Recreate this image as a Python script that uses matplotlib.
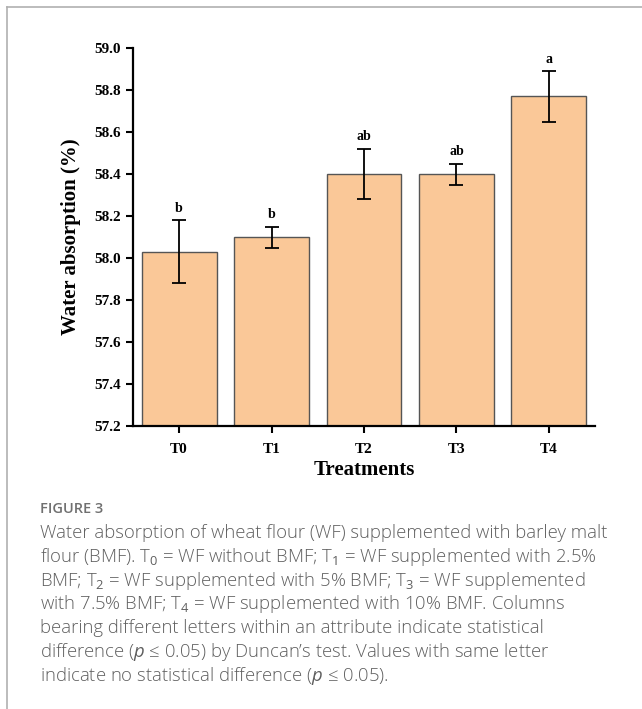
import numpy as np
import matplotlib
matplotlib.use("Agg")
import matplotlib.pyplot as plt
from matplotlib.lines import Line2D

# data
treatments = ["T0", "T1", "T2", "T3", "T4"]
absorption = [58.03, 58.10, 58.40, 58.40, 58.77]
errors = [0.15, 0.05, 0.12, 0.05, 0.12]
letters = ["b", "b", "ab", "ab", "a"]
yticks = [57.2, 57.4, 57.6, 57.8, 58.0, 58.2, 58.4, 58.6, 58.8, 59.0]

plt.rcParams['mathtext.fontset'] = 'custom'
plt.rcParams['mathtext.rm'] = 'Open Sans'
plt.rcParams['mathtext.it'] = 'Open Sans:italic'

serif = 'Liberation Serif'

fig = plt.figure(figsize=(6.42, 7.09), dpi=100)
ax = fig.add_axes([0.207, 0.399, 0.720, 0.533])

x = np.arange(len(treatments))
ax.bar(x, absorption, width=0.81, color='#fac898', edgecolor='#555555',
       linewidth=1.0, zorder=2)
ax.errorbar(x, absorption, yerr=errors, fmt='none', ecolor='black',
            elinewidth=1.3, capsize=5, capthick=1.3, zorder=3)
for xi, v, e, lab in zip(x, absorption, errors, letters):
    ax.annotate(lab, (xi, v + e), xytext=(0, 4), textcoords='offset points',
                ha='center', va='bottom', fontsize=10, fontweight='bold',
                family=serif)

ax.set_xlim(-0.5, 4.5)
ax.set_ylim(57.2, 59.0)
ax.set_yticks(yticks)
ax.set_yticklabels(["%.1f" % t for t in yticks])
ax.set_xticks(x)
ax.set_xticklabels(treatments)
for lab in ax.get_xticklabels() + ax.get_yticklabels():
    lab.set_fontweight('bold')
    lab.set_family(serif)
    lab.set_fontsize(11)
ax.tick_params(axis='both', direction='out', length=5, width=1.5, color='black')
ax.tick_params(axis='x', pad=7)
ax.spines['top'].set_visible(False)
ax.spines['right'].set_visible(False)
for s in ['left', 'bottom']:
    ax.spines[s].set_linewidth(1.6)
ax.set_ylabel("Water absorption (%)", fontsize=15, fontweight='bold',
              family=serif, labelpad=10)
ax.set_xlabel("Treatments", fontsize=15, fontweight='bold', family=serif,
              labelpad=3)

# card border (left and top)
fig.add_artist(Line2D([7 / 642, 7 / 642], [0, 1 - 7 / 709], color='#b0b0b0',
                      lw=1.2, transform=fig.transFigure))
fig.add_artist(Line2D([7 / 642, 1], [1 - 7 / 709, 1 - 7 / 709],
                      color='#b0b0b0', lw=1.2, transform=fig.transFigure))

# caption
cap_color = '#5f5f5f'
fig.text(40 / 642, 1 - 509 / 709, "FIGURE 3", fontsize=10.5, color='#707070',
         family='Open Sans', fontweight='semibold', va='center', ha='left')
caption = [
    "Water absorption of wheat flour (WF) supplemented with barley malt",
    "flour (BMF). T$_0$ = WF without BMF; T$_1$ = WF supplemented with 2.5%",
    "BMF; T$_2$ = WF supplemented with 5% BMF; T$_3$ = WF supplemented",
    "with 7.5% BMF; T$_4$ = WF supplemented with 10% BMF. Columns",
    "bearing different letters within an attribute indicate statistical",
    "difference ($\\mathit{p}$ \u2264 0.05) by Duncan\u2019s test. Values with same letter",
    "indicate no statistical difference ($\\mathit{p}$ \u2264 0.05).",
]
y0 = 533
for i, line in enumerate(caption):
    fig.text(40 / 642, 1 - (y0 + i * 23.8) / 709, line, fontsize=13.3,
             color=cap_color, family=['Open Sans', 'DejaVu Sans'],
             fontweight='light', va='center', ha='left')

fig.savefig("out.png", dpi=100)
